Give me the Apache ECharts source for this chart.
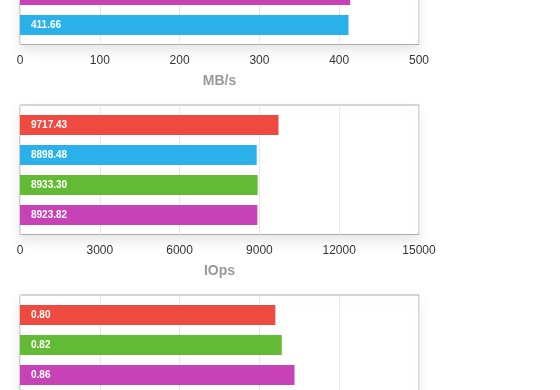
<!DOCTYPE html>
<html><head><meta charset="utf-8">
<script src="https://cdn.jsdelivr.net/npm/echarts@6/dist/echarts.min.js"></script>
<style>html,body{margin:0;padding:0;background:#fff;overflow:hidden;width:560px;height:390px}
#c{position:absolute;left:0;top:-70px;width:560px;height:540px}</style>
</head><body><div id="c"></div>
<script>
// Panel 1 (throughput)
var mbCategories = ['D', 'B'];
var mbValues = [413.8, 411.66];
var mbTicks = [0, 100, 200, 300, 400, 500];
// Panel 2 (IOps)
var iopsCategories = ['A', 'B', 'C', 'D'];
var iopsValues = [9717.43, 8898.48, 8933.30, 8923.82];
var iopsTicks = [0, 3000, 6000, 9000, 12000, 15000];
// Panel 3 (latency)
var latCategories = ['A', 'C', 'D'];
var latValues = [0.80, 0.82, 0.86];
var latTicks = [0, 0.25, 0.5, 0.75, 1, 1.25];

var colorMap = { A: '#ef4a40', B: '#2ab1ea', C: '#63bb35', D: '#c842b7' };

var SHIFT = 70; // container is shifted up by this many px
var panels = [
  { cats: mbCategories, vals: mbValues, ticks: mbTicks, name: 'MB/s', barTop: -20 },
  { cats: iopsCategories, vals: iopsValues, ticks: iopsTicks, name: 'IOps', barTop: 110 },
  { cats: latCategories, vals: latValues, ticks: latTicks, name: '', barTop: 300 }
];

var BAND = 30, LEFT = 20, WIDTH = 399;
var grid = [], xAxis = [], yAxis = [], series = [];
panels.forEach(function (p, i) {
  var n = p.cats.length;
  var min = p.ticks[0], max = p.ticks[p.ticks.length - 1];
  var interval = p.ticks[1] - p.ticks[0];
  var top = p.barTop + SHIFT;
  grid.push({ left: LEFT, width: WIDTH, top: top - 5, height: n * BAND + 9.5,
    show: true, backgroundColor: '#fff', borderColor: '#ababab', borderWidth: 1,
    shadowColor: 'rgba(0,0,0,0.10)', shadowBlur: 12, shadowOffsetY: 6 });
  grid.push({ left: LEFT, width: WIDTH, top: top, height: n * BAND, show: false });
  var gA = 2 * i, gB = 2 * i + 1;
  xAxis.push({ type: 'value', gridIndex: gA, min: min, max: max, interval: interval,
    axisLine: { show: false }, axisTick: { show: false },
    splitLine: { show: true, lineStyle: { color: '#e8e8e8', width: 1 } },
    axisLabel: { margin: 10, color: '#333', fontSize: 12, fontFamily: 'Liberation Sans, Arial, sans-serif',
      formatter: function (v) { return String(v); } },
    name: p.name, nameLocation: 'middle', nameGap: 30,
    nameTextStyle: { color: '#999', fontSize: 14, fontWeight: 'bold', fontFamily: 'Liberation Sans, Arial, sans-serif' } });
  xAxis.push({ type: 'value', gridIndex: gB, min: min, max: max, show: false, splitLine: { show: false } });
  yAxis.push({ type: 'value', gridIndex: gA, show: false, splitLine: { show: false } });
  yAxis.push({ type: 'category', gridIndex: gB, data: p.cats, inverse: true, show: false });
  series.push({
    type: 'bar', xAxisIndex: gB, yAxisIndex: gB, barWidth: 20, animation: false,
    data: p.vals.map(function (v, k) { return { value: v, itemStyle: { color: colorMap[p.cats[k]] } }; }),
    label: { show: true, position: 'insideLeft', distance: 11, color: '#fff', fontSize: 10, fontWeight: 'bold',
      fontFamily: 'Liberation Sans, Arial, sans-serif',
      formatter: function (d) { return d.value.toFixed(2); } }
  });
});

var chart = echarts.init(document.getElementById('c'), null, { renderer: 'canvas' });
chart.setOption({ animation: false, grid: grid, xAxis: xAxis, yAxis: yAxis, series: series });
</script></body></html>
